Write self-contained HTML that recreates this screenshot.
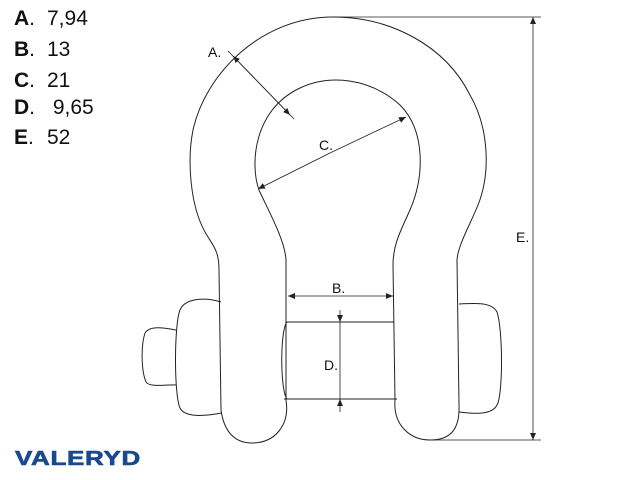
<!DOCTYPE html>
<html><head><style>
body{margin:0;width:640px;height:480px;background:#fff;overflow:hidden;position:relative;font-family:"Liberation Sans",Arial,sans-serif}
.leg{position:absolute;left:14px;font-size:21px;color:#111;line-height:26px}
.leg b{display:inline-block;width:33px}
.logo{position:absolute;left:15px;top:448px;font-size:20px;font-weight:900;color:#1a4a8e;letter-spacing:0.5px;transform:scaleX(1.3);transform-origin:left;-webkit-text-stroke:0.6px #1a4a8e}
</style></head><body>
<div class="leg" style="top:6px"><b>A<span style="font-weight:normal">.</span></b>7,94</div>
<div class="leg" style="top:37px"><b>B<span style="font-weight:normal">.</span></b>13</div>
<div class="leg" style="top:68px"><b>C<span style="font-weight:normal">.</span></b>21</div>
<div class="leg" style="top:95px"><b>D<span style="font-weight:normal">.</span></b>&nbsp;9,65</div>
<div class="leg" style="top:125px"><b>E<span style="font-weight:normal">.</span></b>52</div>
<div class="logo">VALERYD</div>
<svg width="640" height="480" style="position:absolute;left:0;top:0" fill="none" stroke="#222" stroke-width="1">
<defs><marker id="ar" markerWidth="8" markerHeight="8" refX="7" refY="3" orient="auto" markerUnits="userSpaceOnUse"><path d="M0,0 L7,3 L0,6z" fill="#222" stroke="none"/></marker></defs>
<path d="M176,330 C165,328 150,325 145,333 C141,345 141,370 146,382 C150,388 168,384 178,385" fill="#fff"/>
<path d="M221,302 C205,297 185,298 180,310 C174,325 174,395 180,408 C185,418 205,416 222,413" fill="#fff"/>
<path d="M459,304 C475,303 492,302 497,312 C503,330 503,395 497,405 C492,415 475,414 459,412" fill="#fff"/>
<path d="M287,322 L394,322 M284,399 L397,399 M287,322 C280,330 280,390 287,399"/>
<path d="M286,400 L286,260 C285,240 268,210 259,190 C250,165 253,110 300,88 C330,74 370,78 400,105 C425,130 425,175 410,210 C400,232 393,245 393,265 L395,400 C393,425 410,440 430,440 C450,440 460,430 459,405 L457,260 C458,245 470,225 478,205 C490,175 490,130 470,95 C445,45 390,17 333,17 C260,17 205,75 193,130 C187,160 190,205 205,232 C213,246 219,250 219,270 L221,410 C224,432 235,443 252,443 C275,443 290,425 286,400Z" fill="none"/>
<line x1="228" y1="51" x2="290" y2="115" stroke-width="0.8" marker-end="url(#ar)"/>
<line x1="294" y1="119" x2="233" y2="56" stroke-width="0.8" marker-end="url(#ar)"/>
<line x1="330" y1="153" x2="406" y2="117" stroke-width="0.8" marker-end="url(#ar)"/>
<line x1="330" y1="153" x2="258" y2="189" stroke-width="0.8" marker-end="url(#ar)"/>
<line x1="340" y1="296" x2="288" y2="296" stroke-width="0.8" marker-end="url(#ar)"/>
<line x1="340" y1="296" x2="393" y2="296" stroke-width="0.8" marker-end="url(#ar)"/>
<line x1="340" y1="310" x2="340" y2="322" stroke-width="0.8" marker-end="url(#ar)"/>
<line x1="340" y1="412" x2="340" y2="399" stroke-width="0.8" marker-end="url(#ar)"/>
<line x1="340" y1="322" x2="340" y2="399" stroke-width="0.8"/>
<line x1="333" y1="17" x2="541" y2="17" stroke-width="0.8"/>
<line x1="430" y1="440" x2="541" y2="440" stroke-width="0.8"/>
<line x1="533" y1="228" x2="533" y2="17" stroke-width="0.8" marker-end="url(#ar)"/>
<line x1="533" y1="228" x2="533" y2="440" stroke-width="0.8" marker-end="url(#ar)"/>
<g fill="#111" stroke="none" font-family="Liberation Sans,Arial,sans-serif" font-size="14">
<text x="208" y="57">A.</text><text x="319" y="150">C.</text><text x="332" y="293">B.</text><text x="324" y="370">D.</text><text x="516" y="242">E.</text>
</g>
</svg>
</body></html>
